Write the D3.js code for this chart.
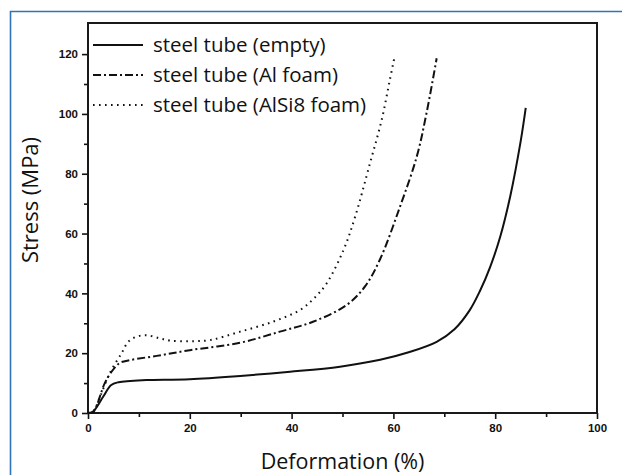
<!DOCTYPE html>
<html>
<head>
<meta charset="utf-8">
<script src="https://cdn.jsdelivr.net/npm/d3@7"></script>
<style>
  body { margin: 0; background: #fff; }
  svg { display: block; }
</style>
</head>
<body>
<div class="container"></div>
<script>
const WIDTH = 622;
const HEIGHT = 475;
const LEFT = 88, RIGHT = 597, TOP = 23, BOTTOM = 413;

// series: deformation (%) and stress (MPa)
const seriesNames = ['steel tube (empty)', 'steel tube (Al foam)', 'steel tube (AlSi8 foam)'];

const emptyX = [0, 1, 3, 4.5, 6, 8.3, 11.5, 20, 29.9, 39.7, 49.5, 57.4, 63, 68.5, 72, 75, 77, 79, 81, 83, 85, 86];
const emptyY = [0, 0.5, 5.5, 9.3, 10.3, 10.7, 11, 11.3, 12.4, 13.8, 15.5, 17.8, 20.3, 23.8, 28, 34.4, 40.8, 48.8, 59, 72.8, 90.8, 102];

const alX = [0, 1, 3.3, 4.9, 6.3, 8.3, 13.5, 20, 29.9, 37.7, 44.2, 50.8, 54.5, 57.4, 61.3, 64.6, 66.5, 68.5];
const alY = [0, 0.3, 10, 14.4, 16.8, 17.7, 19.1, 21, 23.5, 27.2, 30.5, 36.1, 42.5, 51.5, 69, 85.8, 100.2, 118.6];

const alsiX = [0, 1, 2.5, 4.3, 6.6, 7.9, 9.5, 11.5, 14, 16.1, 20, 24, 29.9, 36.3, 41.7, 44.5, 46.9, 50.2, 52.5, 55.4, 57.7, 59.3, 60.3];
const alsiY = [0, 0.5, 6, 13.4, 20, 23.8, 25.5, 26, 25, 24.2, 24, 24.4, 27.2, 30.5, 34.5, 38.5, 43.4, 54.5, 65.7, 83.5, 98, 111.4, 119.7];

const xTicks = [0, 20, 40, 60, 80, 100];
const yTicks = [0, 20, 40, 60, 80, 100, 120];
const dashes = [null, '8,3,2,3', '1.6,4.4'];

var svg = d3.select('.container').append('svg')
  .attr('width', WIDTH)
  .attr('height', HEIGHT);

svg.append('rect').attr('width', WIDTH).attr('height', HEIGHT).attr('fill', '#fff');

// blue page frame (top + left only)
svg.append('path')
  .attr('d', 'M10.5,' + HEIGHT + 'V11.5H' + WIDTH)
  .attr('fill', 'none')
  .attr('stroke', '#2f74b8')
  .attr('stroke-width', 1.6);

var x = d3.scaleLinear().domain([0, 100]).range([LEFT, RIGHT]);
var y = d3.scaleLinear().domain([0, 130.4]).range([BOTTOM, TOP]);

// minor ticks
svg.append('g')
  .attr('transform', 'translate(0,' + BOTTOM + ')')
  .call(d3.axisBottom(x).tickValues(d3.range(10, 100, 20)).tickSize(4).tickFormat(''))
  .call(g => g.select('.domain').remove());
svg.append('g')
  .attr('transform', 'translate(' + LEFT + ',0)')
  .call(d3.axisLeft(y).tickValues(d3.range(10, 130, 20)).tickSize(4).tickFormat(''))
  .call(g => g.select('.domain').remove());

var xAxis = svg.append('g')
  .attr('transform', 'translate(0,' + BOTTOM + ')')
  .call(d3.axisBottom(x).tickValues(xTicks).tickSize(6).tickPadding(5));
var yAxis = svg.append('g')
  .attr('transform', 'translate(' + LEFT + ',0)')
  .call(d3.axisLeft(y).tickValues(yTicks).tickSize(6).tickPadding(4));

[xAxis, yAxis].forEach(function(g) {
  g.selectAll('.domain').remove();
  g.selectAll('text')
    .attr('font-family', 'Liberation Sans, Arial, sans-serif')
    .attr('font-weight', 'bold')
    .attr('font-size', 11.5)
    .attr('fill', '#111');
});
svg.selectAll('.tick line').attr('stroke', '#111').attr('stroke-width', 1.6);

// plot frame
svg.append('rect')
  .attr('x', LEFT).attr('y', TOP)
  .attr('width', RIGHT - LEFT).attr('height', BOTTOM - TOP)
  .attr('fill', 'none')
  .attr('stroke', '#1a1a1a')
  .attr('stroke-width', 2);

var line = d3.line()
  .x(function(d) { return x(d[0]); })
  .y(function(d) { return y(d[1]); })
  .curve(d3.curveCatmullRom.alpha(0.5));

var series = [d3.zip(emptyX, emptyY), d3.zip(alX, alY), d3.zip(alsiX, alsiY)];

svg.append('g').selectAll('path')
  .data(series)
  .enter().append('path')
  .attr('d', line)
  .attr('fill', 'none')
  .attr('stroke', '#111')
  .attr('stroke-width', 2)
  .attr('stroke-dasharray', function(d, i) { return dashes[i]; });

// legend
var legend = svg.append('g').selectAll('g')
  .data(seriesNames)
  .enter().append('g')
  .attr('transform', function(d, i) { return 'translate(93,' + (45 + i * 30) + ')'; });

legend.append('line')
  .attr('x1', 0).attr('x2', 50)
  .attr('stroke', '#111')
  .attr('stroke-width', 2)
  .attr('stroke-dasharray', function(d, i) { return dashes[i]; });

legend.append('text')
  .attr('x', 60).attr('dy', '0.32em')
  .attr('font-family', 'Open Sans, sans-serif')
  .attr('font-size', 20.5)
  .attr('fill', '#111')
  .text(function(d) { return d; });

// axis titles
svg.append('text')
  .attr('x', (LEFT + RIGHT) / 2).attr('y', 469)
  .attr('text-anchor', 'middle')
  .attr('font-family', 'Open Sans, sans-serif')
  .attr('font-size', 21.5)
  .attr('fill', '#111')
  .text('Deformation (%)');

svg.append('text')
  .attr('transform', 'translate(38,' + 200 + ') rotate(-90)')
  .attr('text-anchor', 'middle')
  .attr('font-family', 'Open Sans, sans-serif')
  .attr('font-size', 22)
  .attr('fill', '#111')
  .text('Stress (MPa)');
</script>
</body>
</html>
